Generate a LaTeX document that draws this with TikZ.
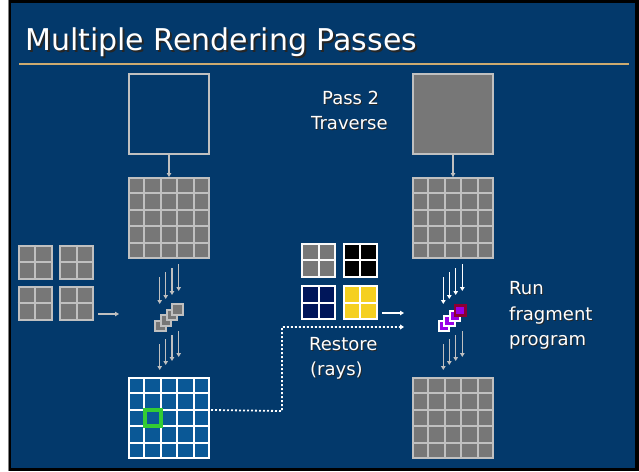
\documentclass[tikz,border=0pt]{standalone}
\usepackage{fontspec}
\setmainfont{DejaVu Sans}
\usetikzlibrary{calc,arrows.meta}
\definecolor{slideblue}{RGB}{3,57,107}
\definecolor{ruletan}{RGB}{204,170,112}
\definecolor{lgray}{RGB}{192,192,192}
\definecolor{cellgray}{RGB}{119,119,119}
\definecolor{cellblue}{RGB}{10,88,150}
\definecolor{navycell}{RGB}{0,22,90}
\definecolor{yellowcell}{RGB}{245,208,32}
\definecolor{gridgreen}{RGB}{51,204,51}
\definecolor{fragpurple}{RGB}{153,0,230}
\definecolor{fragmaroon}{RGB}{140,0,50}
\newcommand{\cellgrid}[3]{%
  \foreach \f in {#2}{%
    \draw[#3] ($(#1.north west)!\f!(#1.north east)$) -- ($(#1.south west)!\f!(#1.south east)$);
    \draw[#3] ($(#1.north west)!\f!(#1.south west)$) -- ($(#1.north east)!\f!(#1.south east)$);
  }}
% text with a drop shadow: #1 offset, #2 text
\newcommand{\shtxt}[2]{\makebox[0pt][l]{\hspace{#1}\raisebox{-#1}{\color{black!85}#2}}#2}
\tikzset{
  bigbox/.style={draw=lgray, line width=2pt, inner sep=0pt, minimum width=80pt, minimum height=80pt},
  smallbox/.style={draw=lgray, line width=2pt, inner sep=0pt, minimum size=33pt, fill=cellgray},
  gl/.style={lgray, line width=2pt},
  wl/.style={white, line width=2pt},
  arr/.style={draw=lgray, line width=1.3pt, -{Triangle[length=4pt,width=4.5pt]}},
  warr/.style={draw=white, line width=1.3pt, -{Triangle[length=4pt,width=4.5pt]}},
  dotline/.style={draw=white, line width=1.8pt, dash pattern=on 2pt off 2pt, -{Triangle[length=4pt,width=5pt]}},
  lbl/.style={text=white, font=\fontsize{18}{22}\selectfont, inner sep=0pt, anchor=base west},
  frag/.style={inner sep=0pt, minimum size=10.5pt, line width=2pt},
}
\begin{document}
\begin{tikzpicture}[x=1pt,y=-1pt]
\useasboundingbox (0,0) rectangle (639,471);
% slide frame
\fill[white] (0,0) rectangle (639,471);
\fill[black] (8,0) rectangle (639,471);
\fill[slideblue] (11,3) rectangle (635,468);
\draw[gray, line width=1pt] (8.5,0) -- (8.5,471);
% title
\node[anchor=base west, inner sep=0pt, text=white, font=\fontsize{30}{36}\selectfont] (title) at (25,50) {\shtxt{2pt}{Multiple Rendering Passes}};
\draw[ruletan, line width=2pt] (19,63.5) -- (629,63.5);

% left column
\node[bigbox] (lbox) at (169,114) {};
\node[bigbox, fill=cellgray] (lgrid) at (169,218) {};
\cellgrid{lgrid}{0.2,0.4,0.6,0.8}{gl}
\draw[arr] (lbox.south) -- (lgrid.north);

\node[bigbox, draw=white, fill=cellblue] (lbg) at (169,418) {};
\cellgrid{lbg}{0.2,0.4,0.6,0.8}{wl}
\node[draw=gridgreen, line width=4pt, inner sep=0pt, minimum size=16pt] (hl) at (153,418) {};

% right column
\node[bigbox, fill=cellgray] (rbox) at (453,114) {};
\node[bigbox, fill=cellgray] (rgrid) at (453,218) {};
\cellgrid{rgrid}{0.2,0.4,0.6,0.8}{gl}
\draw[arr] (rbox.south) -- (rgrid.north);
\node[bigbox, fill=cellgray] (rbg) at (453,418) {};
\cellgrid{rbg}{0.2,0.4,0.6,0.8}{gl}

% staggered arrows
\foreach \i/\x/\ya/\yb in {1/159.7/277/304, 2/165.7/272/299, 3/172/268/295, 4/178.7/264/291}{
  \coordinate (lua\i) at (\x,\ya); \coordinate (lub\i) at (\x,\yb);
  \draw[arr] (lua\i) -- (lub\i);
  \coordinate (lla\i) at (\x,\ya+67); \coordinate (llb\i) at (\x,\yb+66);
  \draw[arr] (lla\i) -- (llb\i);
}
\foreach \i/\x/\ya/\yb in {1/443.3/277/304, 2/449.3/272/299, 3/455.7/268/295, 4/462.3/264/291}{
  \coordinate (rua\i) at (\x,\ya); \coordinate (rub\i) at (\x,\yb);
  \draw[warr] (rua\i) -- (rub\i);
  \coordinate (rla\i) at (\x,\ya+67); \coordinate (rlb\i) at (\x,\yb+66);
  \draw[arr] (rla\i) -- (rlb\i);
}

% stacked fragments (left, gray)
\foreach \i/\x/\y in {1/160.7/326, 2/166.2/320.6, 3/171.8/315.1, 4/177.3/309.7}{
  \node[frag, draw=lgray, fill=cellgray] (lf\i) at (\x,\y) {};
}
% stacked fragments (right, purple)
\foreach \i/\x/\y in {1/444/326, 2/449.5/321, 3/455/316}{
  \node[frag, draw=white, fill=fragpurple] (rf\i) at (\x,\y) {};
}
\node[frag, draw=fragmaroon, line width=2.6pt, fill=fragpurple] (rf4) at (460.3,310.5) {};

% left small grids
\foreach \n/\x/\y in {a/35/262, b/76.7/262, c/35/303.3, d/76.7/303.3}{
  \node[smallbox] (sg\n) at (\x,\y) {};
  \cellgrid{sg\n}{0.5}{gl}
}
\coordinate (la0) at (98,314);
\coordinate (la1) at (119,314);
\draw[arr] (la0) -- (la1);

% middle colour grids
\node[smallbox, draw=white!90!lgray] (cga) at (318.7,260.3) {};
\cellgrid{cga}{0.5}{{white!90!lgray, line width=2pt}}
\node[smallbox, draw=white, fill=black] (cgb) at (360.3,260.3) {};
\cellgrid{cgb}{0.5}{wl}
\node[smallbox, draw=white, fill=navycell] (cgc) at (318.7,302.7) {};
\cellgrid{cgc}{0.5}{wl}
\node[smallbox, draw=white, fill=yellowcell] (cgd) at (360.3,302.7) {};
\cellgrid{cgd}{0.5}{wl}
\coordinate (ma0) at (382,313);
\coordinate (ma1) at (404,313);
\draw[warr] (ma0) -- (ma1);

% dotted restore path
\coordinate (d0) at ($(lbg.north east)+(1,33)$);
\coordinate (d1) at (282,411);
\coordinate (d2) at (404,327);
\draw[dotline] (d0) -- (d1) |- (d2);

% labels
\node[lbl] (p2) at (322,104) {\shtxt{1pt}{Pass 2}};
\node[lbl] (tr) at (311,129) {\shtxt{1pt}{Traverse}};
\node[lbl] (rs) at (309,350) {\shtxt{1pt}{Restore}};
\node[lbl] (ry) at (310,375) {\shtxt{1pt}{(rays)}};
\node[lbl] (run) at (509,294) {\shtxt{1pt}{Run}};
\node[lbl] (fr) at (509,320) {\shtxt{1pt}{fragment}};
\node[lbl] (pg) at (509,345) {\shtxt{1pt}{program}};
\end{tikzpicture}
\end{document}
